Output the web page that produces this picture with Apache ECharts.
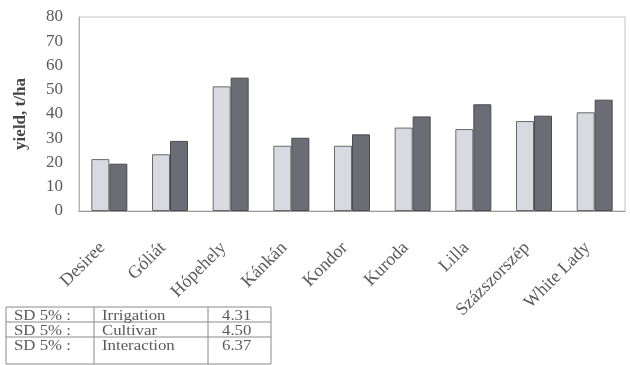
<!DOCTYPE html>
<html>
<head>
<meta charset="utf-8">
<script src="https://cdn.jsdelivr.net/npm/echarts@6/dist/echarts.min.js"></script>
<style>
  html, body { margin: 0; padding: 0; background: #fff; }
  #chart { width: 630px; height: 365px; }
</style>
</head>
<body>
<div id="chart"></div>
<script>
// Potato cultivars and yields (t/ha) for the two treatments
const cultivars = ['Desiree', 'Góliát', 'Hópehely', 'Kánkán', 'Kondor', 'Kuroda', 'Lilla', 'Százszorszép', 'White Lady'];
const seriesA = [21.4, 23.4, 51.4, 26.9, 26.9, 34.4, 33.8, 37.1, 40.7];
const seriesB = [19.5, 28.9, 55.0, 30.2, 31.6, 39.0, 44.0, 39.3, 45.9];

// Least significant differences table
const sdLabels = ['SD 5% :', 'SD 5% :', 'SD 5% :'];
const sdFactors = ['Irrigation', 'Cultivar', 'Interaction'];
const sdValues = ['4.31', '4.50', '6.37'];

const serif = '"Liberation Serif", "DejaVu Serif", serif';
const textGray = '#5a5a5a';

// Build the table as graphic elements
const tableY = 307, rowH = 15;
const colX = [6, 94, 208, 271];
const tableEls = [];
tableEls.push({
  type: 'rect', silent: true,
  shape: { x: colX[0], y: tableY, width: colX[3] - colX[0], height: rowH * 3 + 12 },
  style: { fill: '#fff', stroke: '#8a8a8a', lineWidth: 1 }
});
for (let i = 1; i < 3; i++) {
  tableEls.push({
    type: 'line', silent: true,
    shape: { x1: colX[0], y1: tableY + rowH * i, x2: colX[3], y2: tableY + rowH * i },
    style: { stroke: '#8a8a8a', lineWidth: 1 }
  });
}
for (let c = 1; c < 3; c++) {
  tableEls.push({
    type: 'line', silent: true,
    shape: { x1: colX[c], y1: tableY, x2: colX[c], y2: tableY + rowH * 3 + 12 },
    style: { stroke: '#8a8a8a', lineWidth: 1 }
  });
}
for (let r = 0; r < 3; r++) {
  const cy = tableY + rowH * r + rowH / 2 + 1.5;
  const cells = [
    { x: colX[0] + 8, t: sdLabels[r] },
    { x: colX[1] + 8, t: sdFactors[r] },
    { x: colX[2] + 14, t: sdValues[r] }
  ];
  cells.forEach(cell => tableEls.push({
    type: 'text', silent: true, x: cell.x, y: cy, scaleX: 1.12,
    style: { text: cell.t, font: '15px ' + serif, fill: textGray, verticalAlign: 'middle', align: 'left' }
  }));
}

const chart = echarts.init(document.getElementById('chart'), null, { renderer: 'canvas' });
chart.setOption({
  backgroundColor: '#fff',
  animation: false,
  grid: { left: 79, top: 17, right: 5, bottom: 154, show: true, borderColor: '#c4c4c4', borderWidth: 1 },
  xAxis: {
    type: 'category',
    data: cultivars,
    axisLine: { lineStyle: { color: '#9a9a9a' } },
    axisTick: { show: false },
    axisLabel: {
      rotate: 45, margin: 27, interval: 0, padding: [0, 10, 0, 0],
      fontFamily: serif, fontSize: 18, color: textGray
    }
  },
  yAxis: {
    type: 'value',
    min: 0, max: 80, interval: 10,
    name: 'yield, t/ha',
    nameLocation: 'middle',
    nameGap: 50,
    nameTextStyle: { fontFamily: serif, fontSize: 17, fontWeight: 'bold', color: '#444' },
    axisLine: { show: true, lineStyle: { color: '#b0b0b0' } },
    axisTick: { show: false },
    splitLine: { show: false },
    axisLabel: { fontFamily: serif, fontSize: 17, color: textGray, margin: 16 }
  },
  series: [
    {
      type: 'bar', data: seriesA, barWidth: 18, barGap: '0%',
      itemStyle: { color: '#d9d9e1', borderColor: '#6a6a6a', borderWidth: 1 }
    },
    {
      type: 'bar', data: seriesB, barWidth: 18,
      itemStyle: { color: '#6c6c76', borderColor: '#4a4a50', borderWidth: 1 }
    }
  ],
  graphic: tableEls
});
</script>
</body>
</html>
